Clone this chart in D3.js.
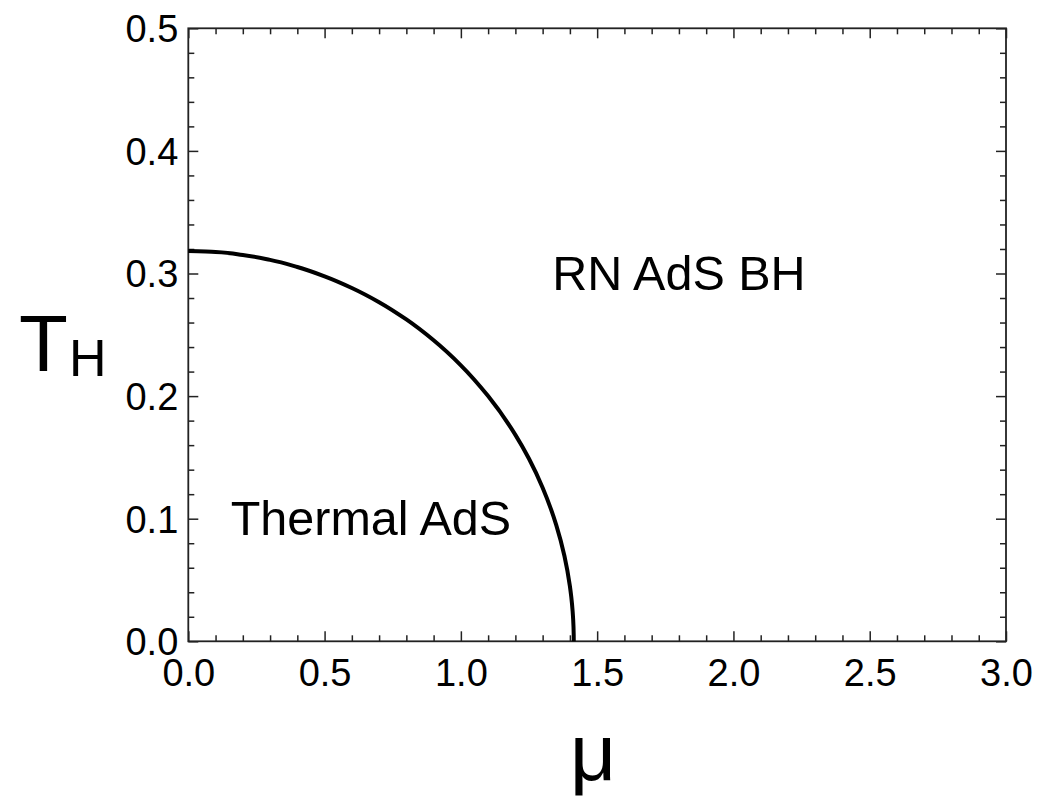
<!DOCTYPE html>
<html><head><meta charset="utf-8">
<script src="https://cdn.jsdelivr.net/npm/d3@7"></script>
<style>body{margin:0;background:#fff}svg text{font-family:"Liberation Sans",Arial,sans-serif;fill:#000}</style>
</head><body>
<svg id="c" width="1040" height="796"></svg>
<script>
const muValues = [0, 0.1, 0.2, 0.3, 0.4, 0.5, 0.6, 0.7, 0.8, 0.9, 1.0, 1.1, 1.2, 1.25, 1.3, 1.35, 1.38, 1.40, 1.405, 1.41, 1.412, 1.414, 1.4142];
const tValues  = [0.3183, 0.3175, 0.3151, 0.3111, 0.3053, 0.2977, 0.2882, 0.2766, 0.2625, 0.2455, 0.2251, 0.2000, 0.1684, 0.1489, 0.1253, 0.0948, 0.0696, 0.0450, 0.0363, 0.0246, 0.0178, 0.0055, 0];
const xTicks = [0, 0.5, 1.0, 1.5, 2.0, 2.5, 3.0];
const yTicks = [0, 0.1, 0.2, 0.3, 0.4, 0.5];
const regionLabels = [{text:"RN AdS BH", mu:1.80, t:0.2865}, {text:"Thermal AdS", mu:0.67, t:0.0867}];

const svg = d3.select("#c");
const L = 188.3, R = 1006, T = 28.3, B = 641.3;
const x = d3.scaleLinear().domain([0, 3]).range([L, R]);
const y = d3.scaleLinear().domain([0, 0.5]).range([B, T]);
const col = "#222";

const xMinor = d3.range(0, 3.0001, 0.1).filter(v => Math.abs(v*2 - Math.round(v*2)) > 1e-6);
const yMinor = d3.range(0, 0.5001, 0.02).filter(v => Math.abs(v*10 - Math.round(v*10)) > 1e-6);

function axisG(axis, tr) { const g = svg.append("g").attr("transform", tr).call(axis); g.select(".domain").remove(); g.selectAll("line").attr("stroke", col).attr("stroke-width", 1.5); return g; }
const fmt = d3.format(".1f");
// bottom
const gb = axisG(d3.axisBottom(x).tickValues(xTicks).tickSize(-10).tickPadding(0).tickFormat(fmt), `translate(0,${B})`);
gb.selectAll("text").attr("font-size", 38).attr("y", 45).attr("dy", 0);
axisG(d3.axisBottom(x).tickValues(xMinor).tickSize(-6).tickFormat(""), `translate(0,${B})`);
// top
axisG(d3.axisTop(x).tickValues(xTicks).tickSize(-10).tickFormat(""), `translate(0,${T})`);
axisG(d3.axisTop(x).tickValues(xMinor).tickSize(-6).tickFormat(""), `translate(0,${T})`);
// left
const gl = axisG(d3.axisLeft(y).tickValues(yTicks).tickSize(-10).tickPadding(0).tickFormat(fmt), `translate(${L},0)`);
gl.selectAll("text").attr("font-size", 38).attr("x", -10).attr("dy", "0.35em");
axisG(d3.axisLeft(y).tickValues(yMinor).tickSize(-6).tickFormat(""), `translate(${L},0)`);
// right
axisG(d3.axisRight(y).tickValues(yTicks).tickSize(-10).tickFormat(""), `translate(${R},0)`);
axisG(d3.axisRight(y).tickValues(yMinor).tickSize(-6).tickFormat(""), `translate(${R},0)`);

svg.append("rect").attr("x", L).attr("y", T).attr("width", R-L).attr("height", B-T)
  .attr("fill", "none").attr("stroke", col).attr("stroke-width", 1.8);

const pts = muValues.map((m, i) => [m, tValues[i]]);
svg.append("path").datum(pts)
  .attr("d", d3.line().x(d => x(d[0])).y(d => y(d[1])).curve(d3.curveMonotoneY))
  .attr("fill", "none").attr("stroke", "#000").attr("stroke-width", 4);

svg.selectAll("text.reg").data(regionLabels).enter().append("text").attr("class","reg")
  .attr("x", d => x(d.mu)).attr("y", d => y(d.t)).attr("text-anchor", "middle")
  .attr("font-size", 48.5).text(d => d.text);

svg.append("text").attr("x", 593).attr("y", 780).attr("text-anchor", "middle").attr("font-size", 80).text("μ");
const th = svg.append("text").attr("x", 19).attr("y", 371).attr("font-size", 80);
th.append("tspan").text("T");
th.append("tspan").attr("font-size", 52).attr("dy", 5).attr("dx", 1).text("H");
</script>
</body></html>
